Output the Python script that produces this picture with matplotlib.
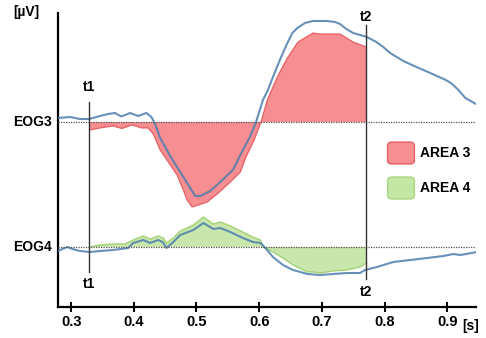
import matplotlib
matplotlib.use("Agg")
import matplotlib.pyplot as plt
import numpy as np
from matplotlib.patches import FancyBboxPatch

plt.rcParams['font.family'] = ['Liberation Sans', 'DejaVu Sans']

# ---------------- data (time in s, amplitude relative to channel baseline) ----
t1, t2 = 0.329, 0.771
base3, base4 = 185, 60

eog3_t = [0.279, 0.298, 0.314, 0.329, 0.346, 0.359, 0.370, 0.380, 0.394, 0.407,
          0.420, 0.428, 0.434, 0.442, 0.458, 0.474, 0.490, 0.498, 0.506, 0.522,
          0.538, 0.558, 0.574, 0.586, 0.595, 0.606, 0.614, 0.622, 0.633, 0.645,
          0.653, 0.661, 0.673, 0.686, 0.708, 0.721, 0.729, 0.739, 0.750, 0.761,
          0.772, 0.787, 0.798, 0.809, 0.830, 0.851, 0.873, 0.898, 0.908, 0.918,
          0.929, 0.946]
eog3_v = [4, 5, 3, 3, 6, 8, 9, 5.5, 9, 6,
          9, 5, -2, -16, -34, -50, -66, -74, -74, -69,
          -60, -48, -28, -14, 0, 22, 32, 45, 62, 79,
          89, 94, 99, 101, 101, 100, 98, 93, 89, 87,
          85, 80, 75, 69, 61, 55, 49, 42, 38, 32,
          24, 18]

area3_t = [0.329, 0.346, 0.367, 0.381, 0.397, 0.413, 0.423, 0.431, 0.442, 0.455,
           0.469, 0.479, 0.485, 0.493, 0.503, 0.517, 0.533, 0.554, 0.570, 0.579,
           0.592, 0.603, 0.613, 0.629, 0.645, 0.662, 0.686, 0.697, 0.729, 0.750,
           0.771]
area3_v = [-8, -6, -4, -6.5, -3, -6, -6, -12, -28, -40,
           -53, -68, -78, -85, -83, -80, -72, -60, -50, -35,
           -18, 0, 22, 45, 64, 80, 89, 88, 88, 80,
           75]

eog4_t = [0.279, 0.286, 0.294, 0.302, 0.314, 0.330, 0.346, 0.367, 0.391, 0.399,
          0.415, 0.426, 0.439, 0.446, 0.452, 0.463, 0.474, 0.495, 0.511, 0.527,
          0.538, 0.554, 0.574, 0.590, 0.602, 0.610, 0.622, 0.638, 0.654, 0.677,
          0.697, 0.718, 0.740, 0.761, 0.769, 0.788, 0.814, 0.841, 0.868, 0.894,
          0.910, 0.921, 0.948]
eog4_v = [-4, -2, 0, -2, -4, -5, -4, -3, -1, 4,
          7, 4, 7, 5, -1, 5, 12, 17, 24, 18,
          19, 15, 9, 5, 4, -1, -10, -18, -23, -27,
          -28, -27, -26, -26, -23, -20, -15, -13, -11, -9,
          -7, -8, -5]

area4_t = [0.329, 0.346, 0.367, 0.386, 0.399, 0.415, 0.426, 0.439, 0.447, 0.452,
           0.463, 0.474, 0.495, 0.511, 0.527, 0.538, 0.554, 0.574, 0.590, 0.602,
           0.606, 0.622, 0.638, 0.654, 0.677, 0.686, 0.697, 0.718, 0.740, 0.761,
           0.771]
area4_v = [0, 2, 3, 3, 7, 11, 8, 11, 9, 4,
           9, 16, 22, 30, 23, 25, 21, 15, 10, 7,
           0, -5, -11, -18, -25, -25, -26, -24, -23, -20,
           -16]

xticks = [0.3, 0.4, 0.5, 0.6, 0.7, 0.8, 0.9]
channel_labels = ["EOG3", "EOG4"]
legend_labels = ["AREA 3", "AREA 4"]

# ---------------- figure -----------------------------------------------------
fig = plt.figure(figsize=(4.86, 3.38), dpi=100)
ax = fig.add_axes([58/486, 31/338, 418/486, 294/338])
ax.set_xlim(0.279, 0.946)
ax.set_ylim(0, 294)

blue = '#4d7eae'
red_face = '#f56e72'
red_edge = '#e0474c'
green_face = '#b4df8c'
green_edge = '#9ccf6c'

# areas
a3 = np.array(area3_v) + base3
ax.fill_between(area3_t, base3, a3, facecolor=red_face, alpha=0.78,
                edgecolor='none', zorder=2)
ax.plot(area3_t, a3, color=red_edge, lw=0.9, alpha=0.8, zorder=2)
a4 = np.array(area4_v) + base4
ax.fill_between(area4_t, base4, a4, facecolor=green_face, alpha=0.72,
                edgecolor='none', zorder=2)
ax.plot(area4_t, a4, color=green_edge, lw=1.0, alpha=0.9, zorder=2)

# blue signal lines (drawn over the areas, partly transparent)
ax.plot(eog3_t, np.array(eog3_v) + base3, color=blue, lw=1.5, alpha=0.85,
        zorder=3, solid_joinstyle='round')
ax.plot(eog4_t, np.array(eog4_v) + base4, color=blue, lw=1.5, alpha=0.85,
        zorder=3, solid_joinstyle='round')

# baselines
for b in (base3, base4):
    ax.axhline(b, color='#555555', lw=0.9, ls=(0, (1, 1)), zorder=4)

# t1 / t2 markers
ax.plot([t1, t1], [35, 205], color='#333333', lw=1.0, zorder=5)
ax.plot([t2, t2], [28, 282], color='#333333', lw=1.0, zorder=5)
fs = 10
ax.text(t1, 220, 't1', ha='center', va='center', fontsize=fs, fontweight='bold')
ax.text(t1, 23, 't1', ha='center', va='center', fontsize=fs, fontweight='bold')
ax.text(t2, 290, 't2', ha='center', va='center', fontsize=fs, fontweight='bold',
        clip_on=False)
ax.text(t2, 15, 't2', ha='center', va='center', fontsize=fs, fontweight='bold')

# channel labels
for lab, b in zip(channel_labels, (base3, base4)):
    ax.text(-0.014, b, lab, transform=ax.get_yaxis_transform(), ha='right',
            va='center', fontsize=fs, fontweight='bold')

# axes styling
for s in ('top', 'right'):
    ax.spines[s].set_visible(False)
ax.spines['left'].set_linewidth(1.6)
ax.spines['bottom'].set_linewidth(1.6)
ax.set_yticks([])
ax.set_xticks(xticks)
ax.set_xticklabels([f'{v:.1f}' for v in xticks], fontweight='bold', fontsize=10.5)
ax.tick_params(axis='x', direction='inout', length=7, width=1.4, pad=2)

fig.text(26/486, 1 - 12/338, '[µV]', ha='center', va='center',
         fontsize=fs, fontweight='bold')
fig.text(471/486, 1 - 326/338, '[s]', ha='center', va='center',
         fontsize=fs, fontweight='bold')

# legend
for i, (lab, fc, ec) in enumerate(zip(legend_labels, [red_face, green_face],
                                      [red_edge, green_edge])):
    y0 = 1 - (163 + i * 35) / 338
    p = FancyBboxPatch((389/486, y0), 24/486, 20/338,
                       boxstyle='round,pad=0.003,rounding_size=0.01',
                       transform=fig.transFigure, facecolor=fc, alpha=0.78,
                       edgecolor=ec, lw=1.0)
    fig.patches.append(p)
    fig.text(420/486, y0 + 10/338, lab, ha='left', va='center', fontsize=fs,
             fontweight='bold')

fig.savefig('out.png', dpi=100)
